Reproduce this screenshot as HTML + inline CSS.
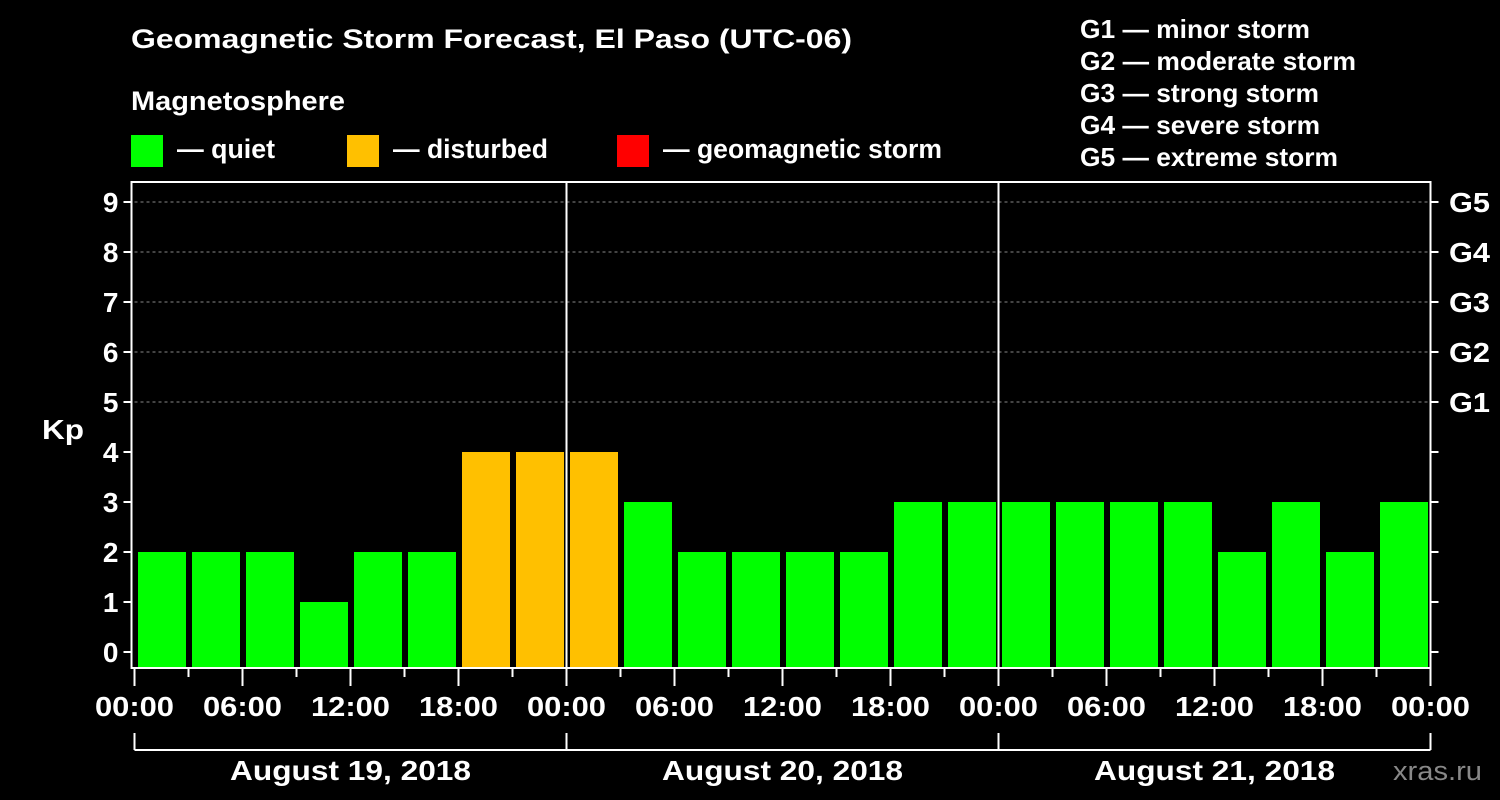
<!DOCTYPE html>
<html><head><meta charset="utf-8"><style>
body{margin:0;background:#000;width:1500px;height:800px;overflow:hidden}
svg{display:block;font-family:"Liberation Sans",sans-serif;font-weight:bold}
</style></head><body>
<svg id="c" width="1500" height="800">
<rect width="1500" height="800" fill="#000"/>
<text x="131" y="48" fill="#fff" font-size="27" textLength="721" lengthAdjust="spacingAndGlyphs">Geomagnetic Storm Forecast, El Paso (UTC-06)</text>
<text x="131" y="110" fill="#fff" font-size="27" textLength="214" lengthAdjust="spacingAndGlyphs">Magnetosphere</text>
<g><rect x="131" y="135" width="32" height="32" fill="#00ff00"/><text x="177" y="158" fill="#fff" font-size="27" textLength="98" lengthAdjust="spacingAndGlyphs">— quiet</text></g>
<g><rect x="347" y="135" width="32" height="32" fill="#ffc000"/><text x="393" y="158" fill="#fff" font-size="27" textLength="155" lengthAdjust="spacingAndGlyphs">— disturbed</text></g>
<g><rect x="617" y="135" width="32" height="32" fill="#ff0000"/><text x="663" y="158" fill="#fff" font-size="27" textLength="279" lengthAdjust="spacingAndGlyphs">— geomagnetic storm</text></g>
<g fill="#fff" font-size="26">
<text x="1080" y="38" textLength="230" lengthAdjust="spacingAndGlyphs">G1 — minor storm</text>
<text x="1080" y="70" textLength="276" lengthAdjust="spacingAndGlyphs">G2 — moderate storm</text>
<text x="1080" y="102" textLength="239" lengthAdjust="spacingAndGlyphs">G3 — strong storm</text>
<text x="1080" y="134" textLength="240" lengthAdjust="spacingAndGlyphs">G4 — severe storm</text>
<text x="1080" y="166" textLength="258" lengthAdjust="spacingAndGlyphs">G5 — extreme storm</text>
</g>
<text x="42" y="439" fill="#fff" font-size="28" textLength="42" lengthAdjust="spacingAndGlyphs">Kp</text>
<text x="1393" y="780" fill="#888" font-size="27" font-weight="normal" textLength="89" lengthAdjust="spacingAndGlyphs">xras.ru</text>
<g id="plot"></g>
</svg>
<script>
const values=[2,2,2,1,2,2,4,4,4,3,2,2,2,2,3,3,3,3,3,3,2,3,2,3];
const yTicks=[0,1,2,3,4,5,6,7,8,9];
const gLabels=["G1","G2","G3","G4","G5"];
const xLabels=["00:00","06:00","12:00","18:00","00:00","06:00","12:00","18:00","00:00","06:00","12:00","18:00","00:00"];
const days=["August 19, 2018","August 20, 2018","August 21, 2018"];
const X0=134.5,X1=1430.5,YT=182,YB=668;
const n=values.length,bw=(X1-X0)/n;
const x=i=>X0+i*bw;
const y=v=>652-50*v;
const g=document.getElementById('plot');
const NS='http://www.w3.org/2000/svg';
function mk(t,a,p){const e=document.createElementNS(NS,t);for(const k in a)e.setAttribute(k,a[k]);(p||g).appendChild(e);return e;}
yTicks.forEach(v=>{if(v>=5){const l=mk('line',{x1:X0,x2:X1,y1:y(v),y2:y(v),stroke:'#888','stroke-dasharray':'3,3','stroke-width':1});

}});
values.forEach((v,i)=>{const c=v>=5?'#ff0000':v>=4?'#ffc000':'#00ff00';
const r=mk('rect',{x:x(i)+3.5,y:y(v),width:bw-6,height:YB-y(v),fill:c});

});
[1,2].forEach(d=>{const l=mk('line',{x1:x(d*8),x2:x(d*8),y1:YT,y2:YB,stroke:'#fff','stroke-width':2});

});
const fr=mk('rect',{x:X0-3,y:YT,width:X1-X0+3,height:YB-YT,fill:'none',stroke:'#fff','stroke-width':2});


yTicks.forEach(v=>{mk('line',{x1:X0-11,x2:X0-3,y1:y(v),y2:y(v),stroke:'#fff','stroke-width':2});
mk('line',{x1:X1,x2:X1+8,y1:y(v),y2:y(v),stroke:'#fff','stroke-width':2});
const t=mk('text',{x:X0-16,y:y(v)+10,fill:'#fff','font-size':28,'text-anchor':'end'});t.textContent=v;

});
gLabels.forEach((s,i)=>{const t=mk('text',{x:1449,y:y(5+i)+10,fill:'#fff','font-size':28,textLength:41,lengthAdjust:'spacingAndGlyphs'});t.textContent=s;

});
for(let i=0;i<=n;i++){mk('line',{x1:x(i),x2:x(i),y1:YB,y2:YB+(i%2?9:18),stroke:'#fff','stroke-width':2});}
xLabels.forEach((s,i)=>{const t=mk('text',{x:x(i*2)-39.5,y:716,fill:'#fff','font-size':28,textLength:79,lengthAdjust:'spacingAndGlyphs'});t.textContent=s;

});
mk('line',{x1:X0,x2:X1,y1:750,y2:750,stroke:'#fff','stroke-width':2});
[0,1,2,3].forEach(d=>mk('line',{x1:x(d*8),x2:x(d*8),y1:733,y2:750,stroke:'#fff','stroke-width':2}));
days.forEach((s,d)=>{const t=mk('text',{x:x(d*8+4)-120.5,y:780,fill:'#fff','font-size':28,textLength:241,lengthAdjust:'spacingAndGlyphs'});t.textContent=s;

});
</script>
</body></html>
